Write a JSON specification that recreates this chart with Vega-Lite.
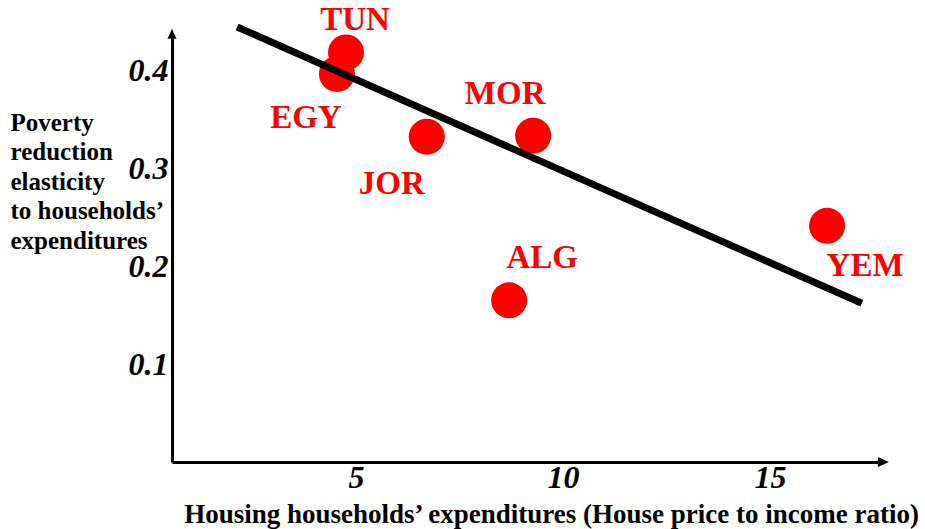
{
  "$schema": "https://vega.github.io/schema/vega-lite/v6.json",
  "autosize": {"type": "none"},
  "width": 706,
  "height": 424,
  "padding": {"left": 172, "top": 38, "right": 47, "bottom": 67},
  "background": "white",
  "config": {
    "view": {"stroke": null},
    "font": "Liberation Serif"
  },
  "datasets": {
    "pts": [
      {"country": "TUN", "ratio": 4.76, "elasticity": 0.418},
      {"country": "EGY", "ratio": 4.54, "elasticity": 0.396},
      {"country": "JOR", "ratio": 6.71, "elasticity": 0.332},
      {"country": "MOR", "ratio": 9.28, "elasticity": 0.333},
      {"country": "ALG", "ratio": 8.70, "elasticity": 0.165},
      {"country": "YEM", "ratio": 16.38, "elasticity": 0.241}
    ],
    "trend": [
      {"ratio": 2.13, "elasticity": 0.444},
      {"ratio": 17.22, "elasticity": 0.162}
    ]
  },
  "layer": [
    {
      "data": {"name": "pts"},
      "mark": {"type": "point", "filled": true, "opacity": 1, "color": "#ff0000", "size": 1300, "shape": "circle"},
      "encoding": {
        "x": {
          "field": "ratio", "type": "quantitative",
          "scale": {"domain": [0.556, 17.61], "nice": false, "zero": false},
          "axis": {
            "values": [5, 10, 15],
            "grid": false, "ticks": false,
            "domainColor": "black", "domainWidth": 3,
            "labelFont": "Liberation Serif", "labelFontSize": 32, "labelFontStyle": "italic", "labelFontWeight": "bold",
            "labelColor": "black", "labelPadding": 0,
            "title": "Housing households’ expenditures (House price to income ratio)",
            "titleFont": "Liberation Serif", "titleFontSize": 27, "titleFontWeight": "bold", "titleColor": "black",
            "titleAlign": "center", "titleBaseline": "alphabetic",
            "titleX": 379, "titleY": 60
          }
        },
        "y": {
          "field": "elasticity", "type": "quantitative",
          "scale": {"domain": [0, 0.4327], "nice": false, "zero": false},
          "axis": {
            "values": [0.1, 0.2, 0.3, 0.4],
            "format": ".1f",
            "grid": false, "ticks": false,
            "domainColor": "black", "domainWidth": 3,
            "labelFont": "Liberation Serif", "labelFontSize": 32, "labelFontStyle": "italic", "labelFontWeight": "bold",
            "labelColor": "black", "labelPadding": 4,
            "title": ["Poverty", "reduction", "elasticity", "to households’", "expenditures"],
            "titleFont": "Liberation Serif", "titleFontSize": 25, "titleFontWeight": "bold", "titleColor": "black",
            "titleAngle": 0, "titleAlign": "left", "titleBaseline": "alphabetic",
            "titleLineHeight": 29.5,
            "titleX": -162, "titleY": 92
          }
        }
      }
    },
    {
      "data": {"name": "trend"},
      "mark": {"type": "line", "color": "black", "strokeWidth": 7, "strokeCap": "butt"},
      "encoding": {
        "x": {"field": "ratio", "type": "quantitative"},
        "y": {"field": "elasticity", "type": "quantitative"}
      }
    },
    {
      "data": {"name": "pts"},
      "transform": [{"filter": "datum.country === 'TUN'"}],
      "mark": {"type": "text", "font": "Liberation Serif", "fontSize": 33, "fontWeight": "bold", "color": "#ff0000", "dx": 9, "dy": -32, "baseline": "middle"},
      "encoding": {"x": {"field": "ratio", "type": "quantitative"}, "y": {"field": "elasticity", "type": "quantitative"}, "text": {"field": "country"}}
    },
    {
      "data": {"name": "pts"},
      "transform": [{"filter": "datum.country === 'EGY'"}],
      "mark": {"type": "text", "font": "Liberation Serif", "fontSize": 33, "fontWeight": "bold", "color": "#ff0000", "dx": -31, "dy": 44, "baseline": "middle"},
      "encoding": {"x": {"field": "ratio", "type": "quantitative"}, "y": {"field": "elasticity", "type": "quantitative"}, "text": {"field": "country"}}
    },
    {
      "data": {"name": "pts"},
      "transform": [{"filter": "datum.country === 'JOR'"}],
      "mark": {"type": "text", "font": "Liberation Serif", "fontSize": 33, "fontWeight": "bold", "color": "#ff0000", "dx": -35, "dy": 47, "baseline": "middle"},
      "encoding": {"x": {"field": "ratio", "type": "quantitative"}, "y": {"field": "elasticity", "type": "quantitative"}, "text": {"field": "country"}}
    },
    {
      "data": {"name": "pts"},
      "transform": [{"filter": "datum.country === 'MOR'"}],
      "mark": {"type": "text", "font": "Liberation Serif", "fontSize": 33, "fontWeight": "bold", "color": "#ff0000", "dx": -28, "dy": -42, "baseline": "middle"},
      "encoding": {"x": {"field": "ratio", "type": "quantitative"}, "y": {"field": "elasticity", "type": "quantitative"}, "text": {"field": "country"}}
    },
    {
      "data": {"name": "pts"},
      "transform": [{"filter": "datum.country === 'ALG'"}],
      "mark": {"type": "text", "font": "Liberation Serif", "fontSize": 33, "fontWeight": "bold", "color": "#ff0000", "dx": 33, "dy": -42, "baseline": "middle"},
      "encoding": {"x": {"field": "ratio", "type": "quantitative"}, "y": {"field": "elasticity", "type": "quantitative"}, "text": {"field": "country"}}
    },
    {
      "data": {"name": "pts"},
      "transform": [{"filter": "datum.country === 'YEM'"}],
      "mark": {"type": "text", "font": "Liberation Serif", "fontSize": 33, "fontWeight": "bold", "color": "#ff0000", "dx": 38, "dy": 40, "baseline": "middle"},
      "encoding": {"x": {"field": "ratio", "type": "quantitative"}, "y": {"field": "elasticity", "type": "quantitative"}, "text": {"field": "country"}}
    },
    {
      "data": {"values": [{}]},
      "mark": {"type": "point", "filled": true, "opacity": 1, "color": "black", "strokeWidth": 0, "size": 121, "shape": "M-1,-0.9L1,0L-1,0.9Z"},
      "encoding": {"x": {"datum": 17.74, "type": "quantitative"}, "y": {"datum": 0, "type": "quantitative"}}
    },
    {
      "data": {"values": [{}]},
      "mark": {"type": "point", "filled": true, "opacity": 1, "color": "black", "strokeWidth": 0, "size": 100, "shape": "M-0.9,1L0,-1L0.9,1Z"},
      "encoding": {"x": {"datum": 0.556, "type": "quantitative"}, "y": {"datum": 0.437, "type": "quantitative"}}
    }
  ]
}
